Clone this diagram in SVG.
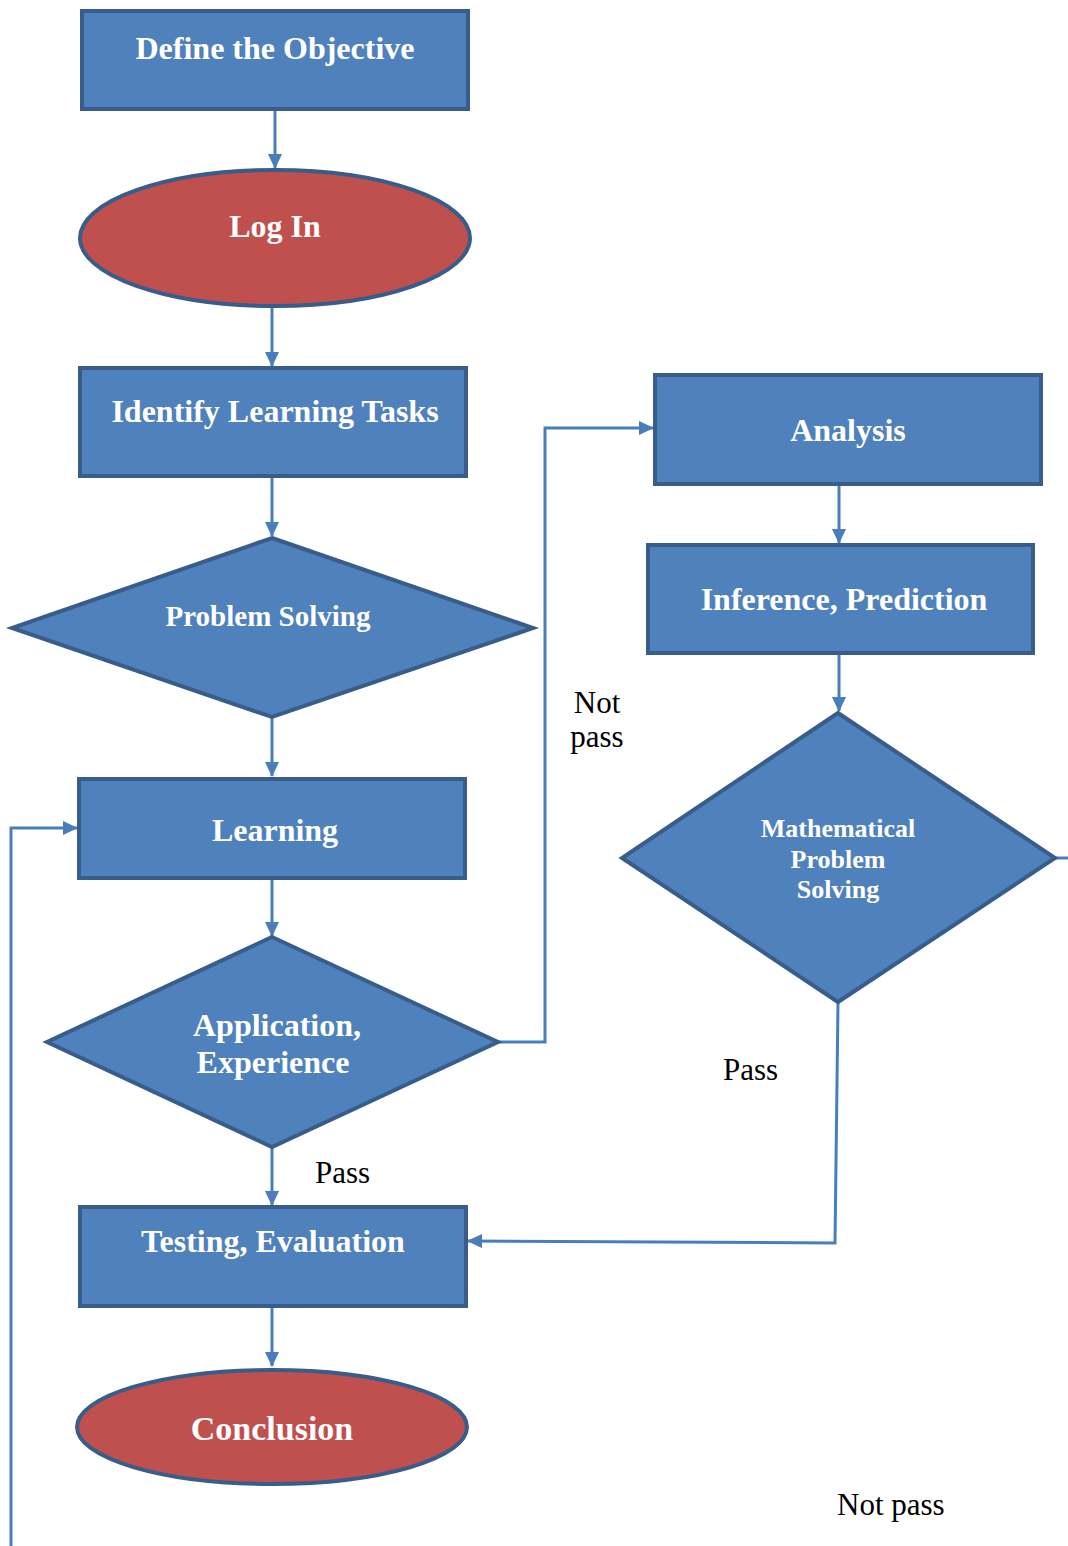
<svg xmlns="http://www.w3.org/2000/svg" width="1068" height="1546" viewBox="0 0 1068 1546">
  <style>
    .box { fill: #4F81BD; stroke: #385D8A; stroke-width: 4; }
    .term { fill: #C0504D; stroke: #385D8A; stroke-width: 4; }
    .lbl { font-family: "Liberation Serif", "Times New Roman", serif; font-weight: bold; fill: #FFFFFF; text-anchor: middle; }
    .note { font-family: "Liberation Serif", "Times New Roman", serif; font-size: 31px; fill: #000000; }
    .wire { fill: none; stroke: #4A7EBB; stroke-width: 3; }
  </style>
  <defs>
    <marker id="head" markerUnits="userSpaceOnUse" viewBox="0 0 15 14" refX="14" refY="7" markerWidth="15" markerHeight="14" orient="auto">
      <path d="M0,0 L15,7 L0,14 Z" fill="#4A7EBB"/>
    </marker>
  </defs>
  <rect width="1068" height="1546" fill="#FFFFFF"/>

  <g id="connectors">
    <path class="wire" d="M275,109 V168" marker-end="url(#head)"/>
    <path class="wire" d="M272,306 V366" marker-end="url(#head)"/>
    <path class="wire" d="M272,476 V536" marker-end="url(#head)"/>
    <path class="wire" d="M272,717 V776" marker-end="url(#head)"/>
    <path class="wire" d="M272,878 V936" marker-end="url(#head)"/>
    <path class="wire" d="M272,1147 V1205" marker-end="url(#head)"/>
    <path class="wire" d="M272,1306 V1366" marker-end="url(#head)"/>
    <path class="wire" d="M498,1042 H545 V428 H653" marker-end="url(#head)"/>
    <path class="wire" d="M839,484 V543" marker-end="url(#head)"/>
    <path class="wire" d="M839,653 V711" marker-end="url(#head)"/>
    <path class="wire" d="M838,1002 L835,1243 L468,1241" marker-end="url(#head)"/>
    <path class="wire" d="M1055,858 H1068"/>
    <path class="wire" d="M11,1546 V828 H77" marker-end="url(#head)"/>
  </g>

  <g id="define-objective">
    <rect class="box" x="82" y="11" width="386" height="98"/>
    <text class="lbl" x="275" y="59" font-size="32">Define the Objective</text>
  </g>

  <g id="log-in">
    <ellipse class="term" cx="275" cy="238" rx="195" ry="68"/>
    <text class="lbl" x="275" y="237" font-size="32">Log In</text>
  </g>

  <g id="identify-tasks">
    <rect class="box" x="80" y="368" width="386" height="108"/>
    <text class="lbl" x="275" y="422" font-size="32">Identify Learning Tasks</text>
  </g>

  <g id="problem-solving">
    <polygon class="box" points="272,538 533,628 272,717 12,628"/>
    <text class="lbl" x="268" y="626" font-size="29">Problem Solving</text>
  </g>

  <g id="learning">
    <rect class="box" x="79" y="779" width="386" height="99"/>
    <text class="lbl" x="275" y="841" font-size="32">Learning</text>
  </g>

  <g id="application-experience">
    <polygon class="box" points="272,937 498,1042 272,1147 47,1042"/>
    <text class="lbl" x="277" y="1036" font-size="32">Application,</text>
    <text class="lbl" x="273" y="1073" font-size="32">Experience</text>
  </g>

  <g id="testing-evaluation">
    <rect class="box" x="80" y="1207" width="386" height="99"/>
    <text class="lbl" x="273" y="1252" font-size="32">Testing, Evaluation</text>
  </g>

  <g id="conclusion">
    <ellipse class="term" cx="272" cy="1427" rx="195" ry="57"/>
    <text class="lbl" x="272" y="1440" font-size="34">Conclusion</text>
  </g>

  <g id="analysis">
    <rect class="box" x="655" y="375" width="386" height="109"/>
    <text class="lbl" x="848" y="441" font-size="32">Analysis</text>
  </g>

  <g id="inference-prediction">
    <rect class="box" x="648" y="545" width="385" height="108"/>
    <text class="lbl" x="844" y="610" font-size="32">Inference, Prediction</text>
  </g>

  <g id="math-problem-solving">
    <polygon class="box" points="838,713 1055,858 838,1002 622,858"/>
    <text class="lbl" x="838" y="837" font-size="26">Mathematical</text>
    <text class="lbl" x="838" y="868" font-size="26">Problem</text>
    <text class="lbl" x="838" y="898" font-size="26">Solving</text>
  </g>

  <g id="labels">
    <text class="note" x="597" y="713" text-anchor="middle">Not</text>
    <text class="note" x="597" y="747" text-anchor="middle">pass</text>
    <text class="note" x="315" y="1183">Pass</text>
    <text class="note" x="723" y="1080">Pass</text>
    <text class="note" x="837" y="1515">Not pass</text>
  </g>
</svg>
